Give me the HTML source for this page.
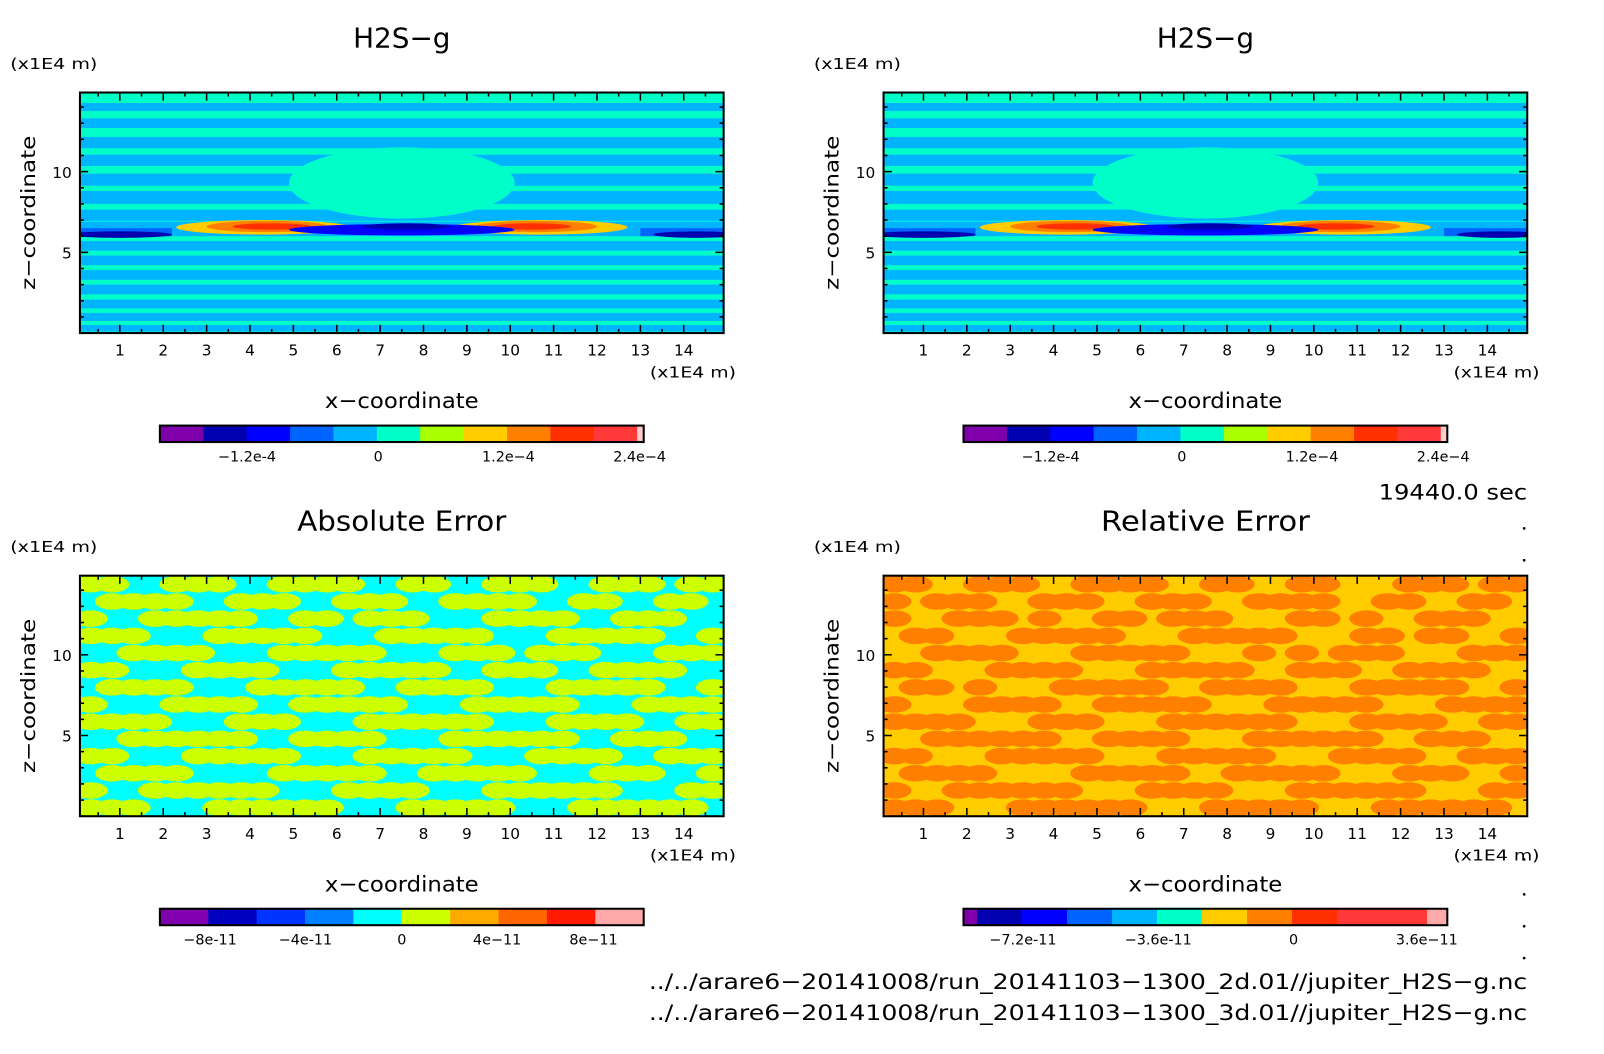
<!DOCTYPE html>
<html><head><meta charset="utf-8"><style>
html,body{margin:0;padding:0;background:#fff;}
svg{display:block;font-family:"DejaVu Sans","Liberation Sans",sans-serif;}
</style></head><body>
<svg id="fig" width="1604" height="1054" viewBox="0 0 1604 1054">
<g id="root" transform="scale(1.025,1.028)"></g>
</svg>
<script>
// ---- data ----
const xTicks = [1,2,3,4,5,6,7,8,9,10,11,12,13,14];
const yTicks = [5,10];
const xDomain = [0.08, 14.92];
const yDomain = [0, 14.9];
// top panels: stripe centres (z) of light-blue bands
const stripeZ = [14.0, 13.0, 11.8, 10.7, 9.5, 8.4, 7.3, 5.4, 4.5, 3.6, 2.7, 1.8, 1.0, 0.3];
const stripeW = [0.5, 0.6, 0.7, 0.7, 0.75, 0.8, 0.7, 0.6, 0.6, 0.6, 0.6, 0.55, 0.5, 0.4];
// blob features: x centre, z centre, half width, half height, colour index
const blobX = [7.5, 4.3, 4.4, 4.5, 10.7, 10.6, 10.5, 7.5, 7.6, 1.0, 14.3];
const blobZ = [9.3, 6.55, 6.6, 6.6, 6.55, 6.6, 6.6, 6.4, 6.6, 6.1, 6.1];
const blobRX = [2.6, 2.0, 1.4, 0.9, 2.0, 1.4, 0.9, 2.6, 1.0, 1.2, 1.0];
const blobRZ = [2.2, 0.45, 0.35, 0.2, 0.45, 0.35, 0.2, 0.35, 0.2, 0.2, 0.2];
const blobC = [5, 7, 8, 9, 7, 8, 9, 2, 1, 1, 1];
const topColors = ["#7f00aa","#0000b0","#0000ff","#0064ff","#00b4ff","#00ffc8","#aaff00","#ffcc00","#ff8000","#ff3000","#ff3838","#ffcccc"];
const topLabels = ["-1.2e-4","0","1.2e-4","2.4e-4"];
const topLabelPos = [241,369,496,624];
const absColors = ["#8000b0","#0000c0","#0033ff","#0080ff","#00ffff","#ccff00","#ffaa00","#ff6600","#ff1a00","#ffaaaa"];
const absLabels = ["-8e-11","-4e-11","0","4e-11","8e-11"];
const absLabelPos = [205,298,392,485,579];
const relColors = ["#7f00aa","#0000b0","#0000ff","#0064ff","#00b4ff","#00ffc8","#ffcc00","#ff8000","#ff3000","#ff3838","#ff3838","#ffaaaa"];
const relLabels = ["-7.2e-11","-3.6e-11","0","3.6e-11"];
const relLabelPos = [998,1130,1262,1392];
// error pattern grids (rows top->bottom, 1 = second colour)
const absGrid = [
"110011100111100110011100111011",
"011110011100111001111001100110",
"100111110011011100011110011100",
"111000111110001111100011111001",
"001111000111110001110111000111",
"110001111000111110011100111100",
"011110001111100111100011111001",
"100011110011111000111110001111",
"111100011100011111100011110011",
"001111110011110001111110011100",
"110001111100011111000111100111",
"011110000111110011111000111001",
"100111111000111100011111100011",
"111000111111000111110001111110"];
const relGrid = [
"110011100111100110011000111011",
"101110011100111001111001100110",
"100111010011011100011010011100",
"011000111110001111100011011001",
"001111000111110001010111000111",
"110001111000111110011100111100",
"011010001111100111100011111001",
"100011110011111000111110001111",
"111100011100011111100011110011",
"001111110011110001111110011100",
"110001111100011111000111100111",
"011110000111110011111000111001",
"100111111000111100011111100011",
"111000111111000111110001111110"];
// ---- drawing ----
const NS="http://www.w3.org/2000/svg";
const root=document.getElementById('root');
function mk(tag,attrs,parent){const e=document.createElementNS(NS,tag);for(const k in attrs)e.setAttribute(k,attrs[k]);(parent||root).appendChild(e);return e;}
function txt(s,x,y,size,anchor,parent,extra){const t=mk('text',Object.assign({x:x,y:y,'font-size':size,'text-anchor':anchor||'middle',fill:'#000'},extra||{}),parent);t.textContent=s;return t;}

function panel(ox,oy,title,kind,name){
  const g=mk('g',{transform:`translate(${ox},${oy})`});
  
  
  const L=78,R=706,T=90,B=324;
  const sx=v=>L+(v-xDomain[0])/(xDomain[1]-xDomain[0])*(R-L);
  const sy=v=>B-(v-yDomain[0])/(yDomain[1]-yDomain[0])*(B-T);
  const t=txt(title,392,46,27,'middle',g,{textLength:title.length>6?204:95,lengthAdjust:'spacingAndGlyphs'});
  
  
  const u=txt('(x1E4 m)',10,67,15,'start',g,{textLength:85,lengthAdjust:'spacingAndGlyphs'});
  
  
  const clip='c'+name;
  const cp=mk('clipPath',{id:clip},g);mk('rect',{x:L,y:T,width:R-L,height:B-T},cp);
  const f=mk('g',{'clip-path':`url(#${clip})`},g);
  
  
  if(kind==='top'){
    mk('rect',{x:L,y:T,width:R-L,height:B-T,fill:topColors[5]},f);
    stripeZ.forEach((z,i)=>{
      const r=mk('rect',{x:L,y:sy(z+stripeW[i]/2),width:R-L,height:sy(z-stripeW[i]/2)-sy(z+stripeW[i]/2),fill:topColors[4]},f);
      
      
    });
    mk('rect',{x:L,y:sy(6.9),width:R-L,height:sy(6.0)-sy(6.9),fill:topColors[4]},f);
    mk('rect',{x:L,y:sy(6.5),width:sx(2.2)-L,height:sy(6.0)-sy(6.5),fill:topColors[3]},f);
    mk('rect',{x:sx(13.0),y:sy(6.5),width:R-sx(13.0),height:sy(6.0)-sy(6.5),fill:topColors[3]},f);
    blobX.forEach((x,i)=>{
      const e=mk('ellipse',{cx:sx(x),cy:sy(blobZ[i]),rx:(sx(blobRX[i])-sx(0)),ry:(sy(0)-sy(blobRZ[i])),fill:topColors[blobC[i]]},f);
      
      
    });
  } else {
    const grid=kind==='abs'?absGrid:relGrid;
    const c0=kind==='abs'?absColors[4]:relColors[6];
    const c1=kind==='abs'?absColors[5]:relColors[7];
    mk('rect',{x:L,y:T,width:R-L,height:B-T,fill:c0},f);
    const rows=grid.length,cols=grid[0].length;
    const cw=(R-L)/cols,ch=(B-T)/rows;
    grid.forEach((row,ri)=>{
      for(let ci=0;ci<cols;ci++){
        if(row[ci]==='1'){
          const e=mk('ellipse',{cx:L+(ci+0.5)*cw,cy:T+(ri+0.5)*ch,rx:cw*0.8,ry:ch*0.48,fill:c1},f);
          
          
        }
      }
    });
  }
  const fr=mk('rect',{x:L,y:T,width:R-L,height:B-T,fill:'none',stroke:'#000','stroke-width':2},g);
  
  
  for(let v=0.5;v<15;v+=0.5){
    const x=sx(v),len=(v%1===0)?8:4;
    mk('line',{x1:x,y1:B,x2:x,y2:B-len,stroke:'#000','stroke-width':1.5},g);
    mk('line',{x1:x,y1:T,x2:x,y2:T+len,stroke:'#000','stroke-width':1.5},g);
  }
  for(let v=1;v<15;v+=1){
    const y=sy(v),len=(v%5===0)?8:4;
    mk('line',{x1:L,y1:y,x2:L+len,y2:y,stroke:'#000','stroke-width':1.5},g);
    mk('line',{x1:R,y1:y,x2:R-len,y2:y,stroke:'#000','stroke-width':1.5},g);
  }
  xTicks.forEach(v=>{const t=txt(String(v),sx(v),346,15,'middle',g);
    
    });
  yTicks.forEach(v=>{const t=txt(String(v),70,sy(v)+6,15,'end',g);
    
    });
  const xu=txt('(x1E4 m)',718,367,15,'end',g,{textLength:84,lengthAdjust:'spacingAndGlyphs'});
  
  
  const xt=txt('x\u2212coordinate',392,397,21,'middle',g,{textLength:150,lengthAdjust:'spacingAndGlyphs'});
  
  
  const yt=txt('z\u2212coordinate',0,0,19,'middle',g,{transform:'translate(34,207) rotate(-90)',textLength:150,lengthAdjust:'spacingAndGlyphs'});
  
  
  const cb=mk('g',{},g);
  
  
  const cols=kind==='top'?topColors:(kind==='abs'?absColors:relColors);
  const labs=kind==='top'?topLabels:(kind==='abs'?absLabels:relLabels);
  const lpos=kind==='top'?topLabelPos:(kind==='abs'?absLabelPos:relLabelPos.map(p=>p-784));
  const bx0=156,bx1=628,by=414,bh=16;
  let widths=cols.map(()=>1);
  if(kind!=='abs'){widths[widths.length-1]=kind==='top'?0.15:0.45;if(kind==='rel')widths[0]=0.3;}
  const tw=widths.reduce((a,b)=>a+b,0);
  let cx=bx0;
  cols.forEach((c,i)=>{const w=widths[i]/tw*(bx1-bx0);
    const r=mk('rect',{x:cx,y:by,width:w+0.5,height:bh,fill:c},cb);
    
    
    cx+=w;});
  mk('rect',{x:bx0,y:by,width:bx1-bx0,height:bh,fill:'none',stroke:'#000','stroke-width':2},cb);
  labs.forEach((s,i)=>{const t=txt(s.replace('-','\u2212'),lpos[i],449,14,'middle',cb);
    
    });
}
panel(0,0,'H2S\u2212g','top','panel-h2s-2d');
panel(784,0,'H2S\u2212g','top','panel-h2s-3d');
panel(0,470,'Absolute Error','abs','panel-absolute-error');
panel(784,470,'Relative Error','rel','panel-relative-error');
const tm=txt('19440.0 sec',1490,486,21,'end',null,{textLength:145,lengthAdjust:'spacingAndGlyphs'});


[514,545,836,870,901,932].forEach(y=>mk('circle',{cx:1487,cy:y,r:1.3,fill:'#000'}));
const p1=txt('../../arare6\u221220141008/run_20141103\u22121300_2d.01//jupiter_H2S\u2212g.nc',1490,962,21,'end',null,{textLength:857,lengthAdjust:'spacingAndGlyphs'});


const p2=txt('../../arare6\u221220141008/run_20141103\u22121300_3d.01//jupiter_H2S\u2212g.nc',1490,992,21,'end',null,{textLength:857,lengthAdjust:'spacingAndGlyphs'});


</script>
</body></html>
